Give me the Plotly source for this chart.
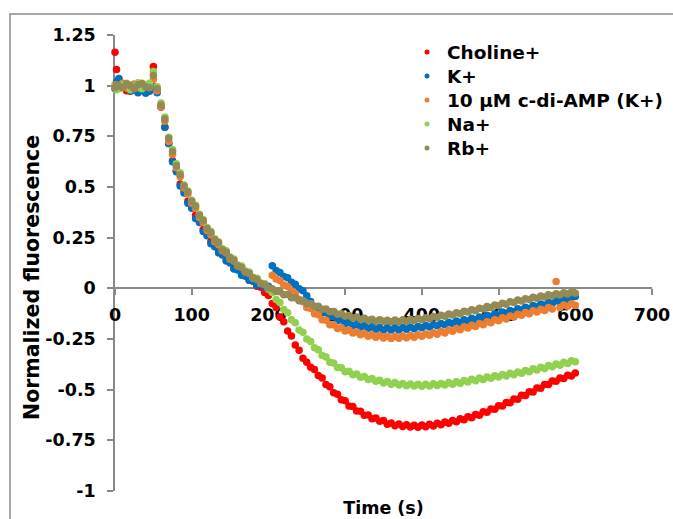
import plotly.graph_objects as go

# ---- data ----
time_s = [0, 2] + list(range(5, 605, 5))

choline = [1.165, 1.08,
    1.03, 1.005, 0.975, 0.972, 1.0, 0.985, 0.978, 0.982, 0.99, 1.095,
    0.975, 0.895, 0.795, 0.715, 0.63, 0.58, 0.515, 0.48, 0.43, 0.405,
    0.36, 0.335, 0.29, 0.27, 0.23, 0.215, 0.185, 0.17, 0.14, 0.13,
    0.1, 0.095, 0.07, 0.065, 0.04, 0.035, 0.01, 0.005, -0.02, -0.035,
    -0.075, -0.095, -0.14, -0.165, -0.21, -0.235, -0.28, -0.305, -0.345, -0.365,
    -0.39, -0.4, -0.43, -0.443, -0.475, -0.485, -0.515, -0.523, -0.55, -0.555,
    -0.58, -0.583, -0.605, -0.606, -0.626, -0.625, -0.643, -0.64, -0.656, -0.652,
    -0.671, -0.665, -0.678, -0.67, -0.682, -0.673, -0.684, -0.675, -0.685, -0.674,
    -0.683, -0.671, -0.679, -0.666, -0.673, -0.66, -0.666, -0.652, -0.658, -0.644,
    -0.649, -0.634, -0.638, -0.622, -0.626, -0.609, -0.612, -0.595, -0.597, -0.579,
    -0.581, -0.563, -0.565, -0.546, -0.547, -0.528, -0.529, -0.51, -0.511, -0.492,
    -0.493, -0.474, -0.475, -0.457, -0.459, -0.442, -0.445, -0.429, -0.433, -0.418]

potassium = [0.985, 1.02,
    1.035, 1.0, 0.995, 0.975, 0.978, 0.965, 0.975, 0.962, 0.972, 0.995,
    0.965, 0.895, 0.795, 0.715, 0.625, 0.575, 0.505, 0.47, 0.42, 0.395,
    0.345, 0.325, 0.28, 0.26, 0.22, 0.205, 0.175, 0.165, 0.135, 0.125,
    0.095, 0.09, 0.065, 0.06, 0.04, 0.035, 0.015, 0.02, 0.005, 0.01,
    0.112, 0.088, 0.078, 0.058, 0.052, 0.03, 0.02, -0.002, -0.012, -0.036,
    -0.065, -0.09, -0.095, -0.12, -0.12, -0.14, -0.14, -0.16, -0.155, -0.173,
    -0.168, -0.183, -0.178, -0.191, -0.185, -0.197, -0.19, -0.202, -0.193, -0.205,
    -0.195, -0.205, -0.194, -0.205, -0.193, -0.202, -0.191, -0.2, -0.188, -0.195,
    -0.183, -0.191, -0.178, -0.185, -0.173, -0.18, -0.167, -0.174, -0.161, -0.168,
    -0.155, -0.161, -0.148, -0.155, -0.141, -0.147, -0.133, -0.139, -0.125, -0.131,
    -0.117, -0.123, -0.109, -0.115, -0.101, -0.107, -0.093, -0.099, -0.085, -0.091,
    -0.077, -0.083, -0.069, -0.075, -0.061, -0.067, -0.053, -0.059, -0.045, -0.04]

cdiamp_k = [1.005, 0.99,
    1.0, 1.012, 0.988, 1.003, 1.008, 0.99, 1.012, 1.0, 0.992, 1.03,
    0.975, 0.895, 0.825, 0.725, 0.66, 0.595, 0.55, 0.495, 0.465, 0.42,
    0.395, 0.35, 0.325, 0.285, 0.265, 0.23, 0.215, 0.185, 0.175, 0.145,
    0.135, 0.11, 0.105, 0.08, 0.075, 0.05, 0.047, 0.025, 0.023, 0.0,
    0.064, 0.046, 0.039, 0.016, 0.009, -0.014, -0.026, -0.054, -0.066, -0.094,
    -0.1, -0.125, -0.13, -0.155, -0.158, -0.18, -0.18, -0.198, -0.195, -0.211,
    -0.206, -0.221, -0.215, -0.229, -0.223, -0.236, -0.229, -0.241, -0.233, -0.245,
    -0.236, -0.247, -0.237, -0.246, -0.235, -0.244, -0.233, -0.241, -0.229, -0.237,
    -0.225, -0.232, -0.219, -0.226, -0.213, -0.22, -0.206, -0.212, -0.198, -0.204,
    -0.19, -0.196, -0.182, -0.188, -0.174, -0.18, -0.165, -0.17, -0.155, -0.16,
    -0.145, -0.151, -0.136, -0.142, -0.128, -0.133, -0.119, -0.125, -0.111, -0.117,
    -0.103, -0.109, -0.095, -0.102, 0.034, -0.095, -0.082, -0.089, -0.076, -0.083]

sodium = [1.0, 0.98,
    0.985, 1.005, 1.012, 0.98, 1.0, 1.015, 0.985, 1.005, 1.012, 1.07,
    0.995, 0.915, 0.845, 0.745, 0.685, 0.615, 0.57, 0.51, 0.48, 0.435,
    0.41, 0.365, 0.34, 0.3, 0.28, 0.245, 0.23, 0.195, 0.185, 0.155,
    0.145, 0.115, 0.11, 0.085, 0.08, 0.055, 0.05, 0.025, 0.023, -0.005,
    -0.02, -0.055, -0.07, -0.105, -0.12, -0.155, -0.17, -0.205, -0.217, -0.25,
    -0.262, -0.293, -0.303, -0.332, -0.339, -0.365, -0.369, -0.391, -0.392, -0.411,
    -0.409, -0.426, -0.423, -0.439, -0.435, -0.45, -0.445, -0.459, -0.453, -0.467,
    -0.46, -0.473, -0.465, -0.477, -0.469, -0.481, -0.472, -0.482, -0.473, -0.483,
    -0.473, -0.482, -0.471, -0.48, -0.469, -0.477, -0.465, -0.473, -0.461, -0.468,
    -0.455, -0.462, -0.449, -0.456, -0.443, -0.45, -0.437, -0.444, -0.431, -0.438,
    -0.425, -0.432, -0.419, -0.426, -0.413, -0.419, -0.405, -0.411, -0.397, -0.403,
    -0.389, -0.395, -0.381, -0.387, -0.373, -0.379, -0.365, -0.371, -0.357, -0.362]

rubidium = [0.99, 1.005,
    1.0, 0.99, 1.01, 1.0, 0.985, 1.005, 1.01, 0.995, 0.99, 1.05,
    0.985, 0.905, 0.835, 0.74, 0.675, 0.605, 0.56, 0.505, 0.475, 0.43,
    0.405, 0.36, 0.335, 0.295, 0.275, 0.24, 0.225, 0.19, 0.178, 0.151,
    0.138, 0.112, 0.103, 0.081, 0.073, 0.051, 0.043, 0.024, 0.018, 0.002,
    -0.002, -0.016, -0.017, -0.032, -0.031, -0.046, -0.046, -0.061, -0.06, -0.075,
    -0.075, -0.089, -0.089, -0.103, -0.102, -0.116, -0.114, -0.128, -0.125, -0.138,
    -0.134, -0.146, -0.142, -0.153, -0.148, -0.158, -0.152, -0.162, -0.155, -0.164,
    -0.157, -0.165, -0.156, -0.165, -0.155, -0.162, -0.153, -0.159, -0.149, -0.155,
    -0.145, -0.15, -0.139, -0.144, -0.133, -0.138, -0.127, -0.132, -0.12, -0.125,
    -0.113, -0.117, -0.106, -0.11, -0.098, -0.102, -0.09, -0.094, -0.082, -0.086,
    -0.074, -0.078, -0.066, -0.07, -0.058, -0.062, -0.051, -0.055, -0.044, -0.049,
    -0.038, -0.043, -0.032, -0.037, -0.027, -0.032, -0.022, -0.028, -0.018, -0.024]

series_names = ["Choline+", "K+", "10 µM c-di-AMP (K+)", "Na+", "Rb+"]
series_values = [choline, potassium, cdiamp_k, sodium, rubidium]
series_colors = ["#FF0000", "#0070C0", "#ED7D31", "#92D050", "#948A54"]

x_ticks = [0, 100, 200, 300, 400, 500, 600, 700]
y_ticks = [1.25, 1, 0.75, 0.5, 0.25, 0, -0.25, -0.5, -0.75, -1]
y_tick_labels = ["1.25", "1", "0.75", "0.5", "0.25", "0", "-0.25", "-0.5", "-0.75", "-1"]

FONT = "DejaVu Sans"
GREY = "#898989"

# layout geometry (pixels)
W, H = 673, 519
ML, MR, MT, MB = 115, 21, 35, 28
PW, PH = W - ML - MR, H - MT - MB

fig = go.Figure()
legend_ids = ["legend", "legend2", "legend3", "legend4", "legend5"]
for name, vals, col, lid in zip(series_names, series_values, series_colors, legend_ids):
    fig.add_trace(go.Scatter(
        x=time_s, y=vals, name=name, mode="markers",
        marker=dict(size=7.5, color=col, line=dict(width=0)),
        cliponaxis=False, legend=lid, legendgroup=name, showlegend=False,
    ))
    # legend entry with the small Excel-style marker
    fig.add_trace(go.Scatter(
        x=[None], y=[None], name=name, mode="markers",
        marker=dict(size=5, color=col, line=dict(width=0)),
        legend=lid, legendgroup=name, showlegend=True,
    ))

legend_layout = {}
for i, lid in enumerate(legend_ids):
    top_px = 33.5 + 24 * i
    legend_layout[lid] = dict(
        x=(407 - ML) / PW, y=(H - MB - top_px) / PH, xanchor="left", yanchor="top",
        bgcolor="rgba(0,0,0,0)", font=dict(family=FONT, size=18.5, weight="bold"),
        itemsizing="trace")

fig.update_layout(
    width=W, height=H,
    margin=dict(l=ML, r=MR, t=MT, b=MB, autoexpand=False),
    paper_bgcolor="white", plot_bgcolor="white",
    font=dict(family=FONT, size=17, color="black", weight="bold"),
    showlegend=True,
    xaxis=dict(range=[0, 700], tickvals=x_ticks, ticks="outside", ticklen=6,
               tickcolor=GREY, tickwidth=1.5, showline=True, linecolor=GREY, linewidth=1.5,
               showgrid=False, zeroline=False, anchor="free", position=1 / 2.25,
               layer="below traces", ticklabelstandoff=5, automargin=False,
               tickfont=dict(family=FONT, size=17.5, weight="bold"),
               title=dict(text="Time (s)", font=dict(family=FONT, size=17.5, weight="bold"),
                          standoff=177)),
    yaxis=dict(range=[-1, 1.25], tickvals=y_ticks, ticktext=y_tick_labels,
               ticks="outside", ticklen=6, tickcolor=GREY, tickwidth=1.5,
               showline=True, linecolor=GREY, linewidth=1.5, showgrid=False,
               zeroline=False, layer="below traces", ticklabelstandoff=8, automargin=False,
               tickfont=dict(family=FONT, size=17.5, weight="bold")),
    annotations=[dict(text="Normalized fluorescence", textangle=-90,
                      xref="paper", yref="paper", x=(32 - ML) / PW, y=(H - MB - 278) / PH,
                      xanchor="center", yanchor="middle", showarrow=False,
                      font=dict(family=FONT, size=20.5, weight="bold", color="black"))],
    shapes=[dict(type="rect", xref="paper", yref="paper",
                 x0=(10 - ML) / PW, x1=1.2, y0=-0.2, y1=(H - MB - 14) / PH,
                 line=dict(color="#8c8c8c", width=1.5), layer="below")],
    **legend_layout,
)

fig.write_html("out.html")
